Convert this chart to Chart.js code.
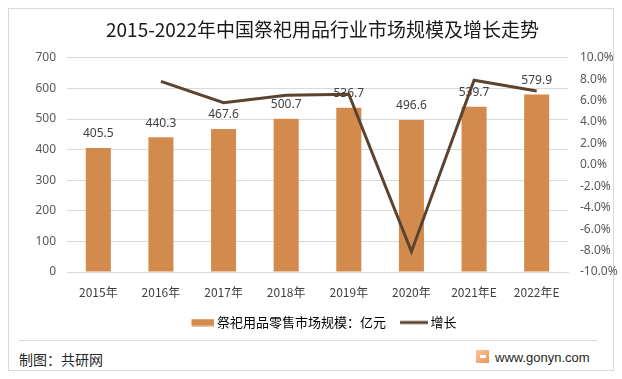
<!DOCTYPE html>
<html>
<head>
<meta charset="utf-8">
<script src="https://cdn.jsdelivr.net/npm/chart.js@4"></script>
<style>
  html, body { margin:0; padding:0; background:#fff; }
  #wrap { position:relative; width:622px; height:379px; overflow:hidden; }
  #frame { position:absolute; left:8px; top:8px; width:606px; height:363px; border:1px solid #d9d9d9; box-sizing:border-box; }
  #sep { position:absolute; left:19px; top:340px; width:578px; height:1px; background:#d9d9d9; }
  #src { position:absolute; left:19px; top:350px; font:14px "Noto Sans CJK SC", sans-serif; color:#262626; line-height:18px; }
  #site { position:absolute; left:495px; top:350px; font:13px "Liberation Sans", Arial, sans-serif; color:#262626; line-height:16px; }
  #logo { position:absolute; left:476px; top:350px; width:13px; height:13px; background:linear-gradient(135deg,#f9c7a8,#f0924a); }
  #logo:after { content:""; position:absolute; left:4px; top:5px; width:6px; height:3px; background:#fff; }
  canvas { position:absolute; left:0; top:0; }
</style>
</head>
<body>
<div id="wrap">
  <div id="frame"></div>
  <div id="sep"></div>
  <div id="src">制图：共研网</div>
  <div id="logo"></div>
  <div id="site">www.gonyn.com</div>
  <canvas id="c" width="622" height="379"></canvas>
</div>
<script>
const titleText = '2015-2022年中国祭祀用品行业市场规模及增长走势';
const categories = ['2015年','2016年','2017年','2018年','2019年','2020年','2021年E','2022年E'];
const marketSize = [405.5, 440.3, 467.6, 500.7, 536.7, 496.6, 539.7, 579.9];
const growth = [null, 7.8, 5.8, 6.5, 6.6, -8.1, 7.9, 6.9];
const seriesNames = ['祭祀用品零售市场规模：亿元', '增长'];

const BAR_COLOR = '#d38b4d';
const LINE_COLOR = '#5c4330';
const NUM = '"Noto Sans", "Noto Sans CJK SC", sans-serif';
const CJK = '"Noto Sans CJK SC", sans-serif';

function makeImg(w, h, x0, mw, mh, color) {
  const c = document.createElement('canvas');
  c.width = w; c.height = h;
  const g = c.getContext('2d');
  g.fillStyle = color;
  g.fillRect(x0, (h - mh) / 2, mw, mh);
  return c;
}
const barImg = makeImg(30, 8, 7, 23, 7, BAR_COLOR);
const lineImg = makeImg(30, 8, 2, 28, 3, LINE_COLOR);

const barLabels = {
  id: 'barLabels',
  afterDatasetDraw(chart, args) {
    if (args.index !== 0) return;
    const ctx = chart.ctx;
    ctx.save();
    ctx.font = '12px ' + NUM;
    ctx.fillStyle = '#404040';
    ctx.textAlign = 'center';
    ctx.textBaseline = 'middle';
    args.meta.data.forEach((bar, i) => {
      ctx.fillText(marketSize[i].toFixed(1), bar.x, bar.y - 14);
    });
    ctx.restore();
  }
};

new Chart(document.getElementById('c'), {
  data: {
    labels: categories,
    datasets: [
      { type: 'bar', label: seriesNames[0], data: marketSize, backgroundColor: BAR_COLOR,
        yAxisID: 'y', order: 1, barPercentage: 0.4, categoryPercentage: 1.0 },
      { type: 'line', label: seriesNames[1], data: growth, borderColor: LINE_COLOR, backgroundColor: LINE_COLOR,
        borderWidth: 3, pointRadius: 0, tension: 0, yAxisID: 'y1', order: 0 }
    ]
  },
  options: {
    responsive: false,
    animation: false,
    layout: { padding: { left: 23, right: 0, top: 0, bottom: 40 } },
    plugins: {
      title: { display: true, text: titleText, color: '#1a1a1a',
        font: { size: 19, family: CJK, weight: 'normal' }, padding: { top: 18, bottom: 17 } },
      legend: {
        position: 'bottom',
        labels: {
          usePointStyle: true, pointStyleWidth: 22, boxHeight: 7, padding: 16,
          color: '#262626', font: { size: 13, family: CJK },
          generateLabels() {
            return [
              { text: seriesNames[0], pointStyle: barImg, fillStyle: BAR_COLOR, strokeStyle: 'transparent', lineWidth: 0, hidden: false, datasetIndex: 0 },
              { text: seriesNames[1], pointStyle: lineImg, fillStyle: LINE_COLOR, strokeStyle: 'transparent', lineWidth: 0, hidden: false, datasetIndex: 1 }
            ];
          }
        }
      },
      tooltip: { enabled: false }
    },
    scales: {
      x: {
        grid: { display: false, drawTicks: false },
        border: { display: true, color: '#d9d9d9' },
        ticks: { color: '#404040', font: { size: 12, family: CJK }, padding: 13, maxRotation: 0 },
        afterFit(s) { s.height = 28; }
      },
      y: {
        position: 'left', min: 0, max: 700,
        grid: { color: '#d9d9d9', drawTicks: false },
        border: { display: false },
        ticks: { stepSize: 100, color: '#595959', font: { size: 12, family: NUM }, padding: 11 },
        afterFit(s) { s.width = 44; }
      },
      y1: {
        position: 'right', min: -10, max: 10,
        grid: { display: false, drawTicks: false },
        border: { display: false },
        ticks: { stepSize: 2, color: '#595959', font: { size: 12, family: NUM }, padding: 12,
          callback: v => v.toFixed(1) + '%' },
        afterFit(s) { s.width = 54; }
      }
    }
  },
  plugins: [barLabels]
});
</script>
</body>
</html>
